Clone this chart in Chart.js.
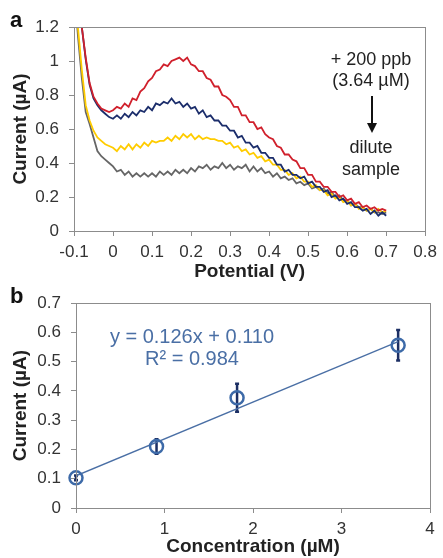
<!DOCTYPE html>
<html>
<head>
<meta charset="utf-8">
<script src="https://cdn.jsdelivr.net/npm/chart.js@4.4.1/dist/chart.umd.min.js"></script>
<style>
body { margin: 0; background: #fff; width: 443px; height: 558px; overflow: hidden; position: relative; font-family: "Liberation Sans", Arial, sans-serif; }
.box { position: absolute; left: 0; width: 443px; }
.lbl { position: absolute; white-space: nowrap; text-align: center; }
</style>
</head>
<body>
<div class="box" style="top:0;height:283px"><canvas id="chartA"></canvas></div>
<div class="box" style="top:283px;height:275px"><canvas id="chartB"></canvas></div>

<div class="lbl" style="left:10px;top:7px;font-size:22px;font-weight:bold;color:#111">a</div>
<div class="lbl" style="left:10px;top:283px;font-size:22px;font-weight:bold;color:#111">b</div>

<div class="lbl" style="left:321px;top:49px;width:100px;font-size:18px;line-height:21px;color:#222">+ 200 ppb<br>(3.64 µM)</div>
<div class="lbl" style="left:321px;top:136px;width:100px;font-size:18px;line-height:22px;color:#222">dilute<br>sample</div>

<div class="lbl" style="left:92px;top:325px;width:200px;font-size:20px;line-height:22px;color:#4a6fa5">y = 0.126x + 0.110<br>R² = 0.984</div>

<script>
// panel a: stripping voltammograms
var potential = [-0.10,-0.09,-0.08,-0.07,-0.06,-0.05,-0.04,-0.03,-0.02,-0.01,
  0.00,0.01,0.02,0.03,0.04,0.05,0.06,0.07,0.08,0.09,
  0.10,0.11,0.12,0.13,0.14,0.15,0.16,0.17,0.18,0.19,
  0.20,0.21,0.22,0.23,0.24,0.25,0.26,0.27,0.28,0.29,
  0.30,0.31,0.32,0.33,0.34,0.35,0.36,0.37,0.38,0.39,
  0.40,0.41,0.42,0.43,0.44,0.45,0.46,0.47,0.48,0.49,
  0.50,0.51,0.52,0.53,0.54,0.55,0.56,0.57,0.58,0.59,
  0.60,0.61,0.62,0.63,0.64,0.65,0.66,0.67,0.68,0.69,
  0.70];

var curRed = [1.70,1.45,1.20,1.02,0.87,0.79,0.75,0.72,0.71,0.70,
  0.71,0.73,0.72,0.75,0.73,0.78,0.77,0.82,0.84,0.88,
  0.90,0.94,0.95,0.98,0.97,1.00,1.01,1.02,1.00,1.02,
  0.98,0.97,0.94,0.94,0.90,0.89,0.85,0.85,0.80,0.79,
  0.77,0.73,0.73,0.68,0.68,0.64,0.64,0.60,0.61,0.57,
  0.55,0.54,0.50,0.49,0.45,0.45,0.42,0.41,0.37,0.37,
  0.33,0.33,0.29,0.29,0.26,0.26,0.23,0.23,0.20,0.21,
  0.18,0.19,0.16,0.17,0.14,0.15,0.13,0.14,0.12,0.13,
  0.12];

var curNavy = [1.70,1.45,1.20,1.01,0.86,0.78,0.74,0.71,0.69,0.67,
  0.66,0.68,0.66,0.69,0.67,0.70,0.68,0.71,0.70,0.73,
  0.71,0.75,0.74,0.76,0.75,0.78,0.75,0.76,0.73,0.75,
  0.72,0.73,0.69,0.71,0.67,0.68,0.65,0.65,0.62,0.62,
  0.59,0.59,0.55,0.56,0.52,0.52,0.49,0.50,0.46,0.46,
  0.43,0.43,0.39,0.39,0.35,0.36,0.33,0.33,0.31,0.32,
  0.28,0.29,0.26,0.26,0.23,0.24,0.20,0.21,0.18,0.19,
  0.16,0.17,0.14,0.14,0.12,0.13,0.10,0.12,0.09,0.11,
  0.09];

var curYellow = [1.50,1.20,0.95,0.74,0.65,0.59,0.55,0.53,0.51,0.50,
  0.49,0.47,0.50,0.48,0.51,0.48,0.51,0.49,0.52,0.50,
  0.53,0.52,0.53,0.53,0.55,0.53,0.56,0.54,0.57,0.55,
  0.57,0.54,0.56,0.54,0.55,0.54,0.54,0.53,0.53,0.51,
  0.52,0.49,0.50,0.47,0.48,0.45,0.46,0.43,0.44,0.41,
  0.42,0.39,0.39,0.36,0.36,0.33,0.34,0.31,0.32,0.29,
  0.29,0.26,0.27,0.24,0.24,0.21,0.22,0.19,0.20,0.17,
  0.18,0.15,0.16,0.13,0.14,0.12,0.13,0.11,0.13,0.11,
  0.12];

var curGray = [1.45,1.15,0.90,0.70,0.63,0.55,0.47,0.44,0.42,0.40,
  0.38,0.35,0.36,0.33,0.35,0.32,0.34,0.32,0.34,0.32,
  0.34,0.32,0.35,0.33,0.35,0.33,0.36,0.34,0.36,0.34,
  0.37,0.35,0.38,0.37,0.39,0.36,0.38,0.37,0.40,0.37,
  0.39,0.36,0.38,0.37,0.39,0.35,0.38,0.35,0.37,0.34,
  0.35,0.32,0.34,0.31,0.32,0.30,0.31,0.28,0.29,0.27,
  0.28,0.25,0.26,0.24,0.25,0.22,0.23,0.20,0.21,0.18,
  0.18,0.15,0.16,0.14,0.14,0.12,0.13,0.11,0.11,0.10,
  0.11];

// panel b: calibration
var concentration = [0, 0.91, 1.82, 3.64];
var peakCurrent = [0.103, 0.210, 0.377, 0.556];
var currentErr = [0.008, 0.025, 0.048, 0.052];
var fitX = [0, 3.64];
var fitY = [0.110, 0.569];

var FONT = "'Liberation Sans', Arial, sans-serif";
var AXIS = '#8c8c8c';

function pts(xs, ys) {
    return xs.map(function (x, i) { return { x: x, y: ys[i] }; });
}
function fmt(v) { return String(Math.round(v * 100) / 100); }

var framePlugin = {
    id: 'frame',
    afterDraw: function (chart) {
        var a = chart.chartArea, ctx = chart.ctx;
        ctx.save();
        ctx.strokeStyle = AXIS;
        ctx.lineWidth = 1;
        ctx.strokeRect(Math.round(a.left) + 0.5, Math.round(a.top) + 0.5,
            Math.round(a.right - a.left), Math.round(a.bottom - a.top));
        ctx.restore();
    }
};

var arrowPlugin = {
    id: 'arrow',
    afterDraw: function (chart) {
        var ctx = chart.ctx;
        ctx.save();
        ctx.strokeStyle = '#111';
        ctx.fillStyle = '#111';
        ctx.lineWidth = 2;
        ctx.beginPath();
        ctx.moveTo(372, 96);
        ctx.lineTo(372, 124);
        ctx.stroke();
        ctx.beginPath();
        ctx.moveTo(367, 123);
        ctx.lineTo(377, 123);
        ctx.lineTo(372, 133);
        ctx.closePath();
        ctx.fill();
        ctx.restore();
    }
};

var errPlugin = {
    id: 'errbars',
    beforeDatasetsDraw: function (chart) {
        var ctx = chart.ctx, xs = chart.scales.x, ys = chart.scales.y;
        ctx.save();
        ctx.strokeStyle = '#1c2f64';
        ctx.lineWidth = 2.5;
        concentration.forEach(function (c, i) {
            var px = xs.getPixelForValue(c);
            var top = ys.getPixelForValue(peakCurrent[i] + currentErr[i]);
            var bot = ys.getPixelForValue(peakCurrent[i] - currentErr[i]);
            ctx.beginPath();
            ctx.moveTo(px, top); ctx.lineTo(px, bot);
            ctx.moveTo(px - 2, top); ctx.lineTo(px + 2, top);
            ctx.moveTo(px - 2, bot); ctx.lineTo(px + 2, bot);
            ctx.stroke();
        });
        ctx.restore();
    }
};

function axis(min, max, step, title, size, titlePad, tickPad) {
    return {
        type: 'linear', min: min, max: max,
        ticks: { stepSize: step, color: '#333', padding: tickPad, font: { family: FONT, size: 17 }, callback: fmt },
        grid: { drawOnChartArea: false, drawTicks: true, tickLength: 5, color: AXIS },
        border: { color: AXIS },
        title: { display: true, text: title, color: '#222', padding: titlePad, font: { family: FONT, size: 19, weight: 'bold' } },
        afterFit: size
    };
}

Chart.defaults.animation = false;

function lineSet(label, ys, color) {
    return {
        label: label, data: pts(potential, ys), borderColor: color, borderWidth: 1.8,
        pointRadius: 0, tension: 0, fill: false
    };
}

new Chart(document.getElementById('chartA'), {
    type: 'line',
    data: {
        datasets: [
            lineSet('spiked', curRed, '#d0202c'),
            lineSet('sample 3', curNavy, '#1b2d6b'),
            lineSet('sample 2', curYellow, '#ffcc00'),
            lineSet('sample 1', curGray, '#666666')
        ]
    },
    options: {
        responsive: true, maintainAspectRatio: false,
        layout: { padding: { top: 27, right: 13, left: 0, bottom: 0 } },
        plugins: { legend: { display: false }, tooltip: { enabled: false } },
        scales: {
            x: axis(-0.1, 0.8, 0.1, 'Potential (V)', function (s) { s.height = 52; }, { top: 0, bottom: 0 }, 6),
            y: axis(0, 1.2, 0.2, 'Current (µA)', function (s) { s.width = 74; }, { top: 9, bottom: 0 }, 10)
        }
    },
    plugins: [framePlugin, arrowPlugin]
});

new Chart(document.getElementById('chartB'), {
    type: 'scatter',
    data: {
        datasets: [
            {
                label: 'peak current', data: pts(concentration, peakCurrent), clip: false,
                pointRadius: 6.5, pointBorderWidth: 2.5, pointBorderColor: '#3d6aa8',
                pointBackgroundColor: 'rgba(0,0,0,0)'
            },
            {
                label: 'fit', type: 'line', data: pts(fitX, fitY), borderColor: '#4a6fa5',
                borderWidth: 1.3, pointRadius: 0, fill: false
            }
        ]
    },
    options: {
        responsive: true, maintainAspectRatio: false,
        layout: { padding: { top: 20, right: 13, left: 0, bottom: 0 } },
        plugins: { legend: { display: false }, tooltip: { enabled: false } },
        scales: {
            x: axis(0, 4, 1, 'Concentration (µM)', function (s) { s.height = 50; }, { top: 0, bottom: 0 }, 6),
            y: axis(0, 0.7, 0.1, 'Current (µA)', function (s) { s.width = 76; }, { top: 9, bottom: 0 }, 10)
        }
    },
    plugins: [framePlugin, errPlugin]
});
</script>
</body>
</html>
